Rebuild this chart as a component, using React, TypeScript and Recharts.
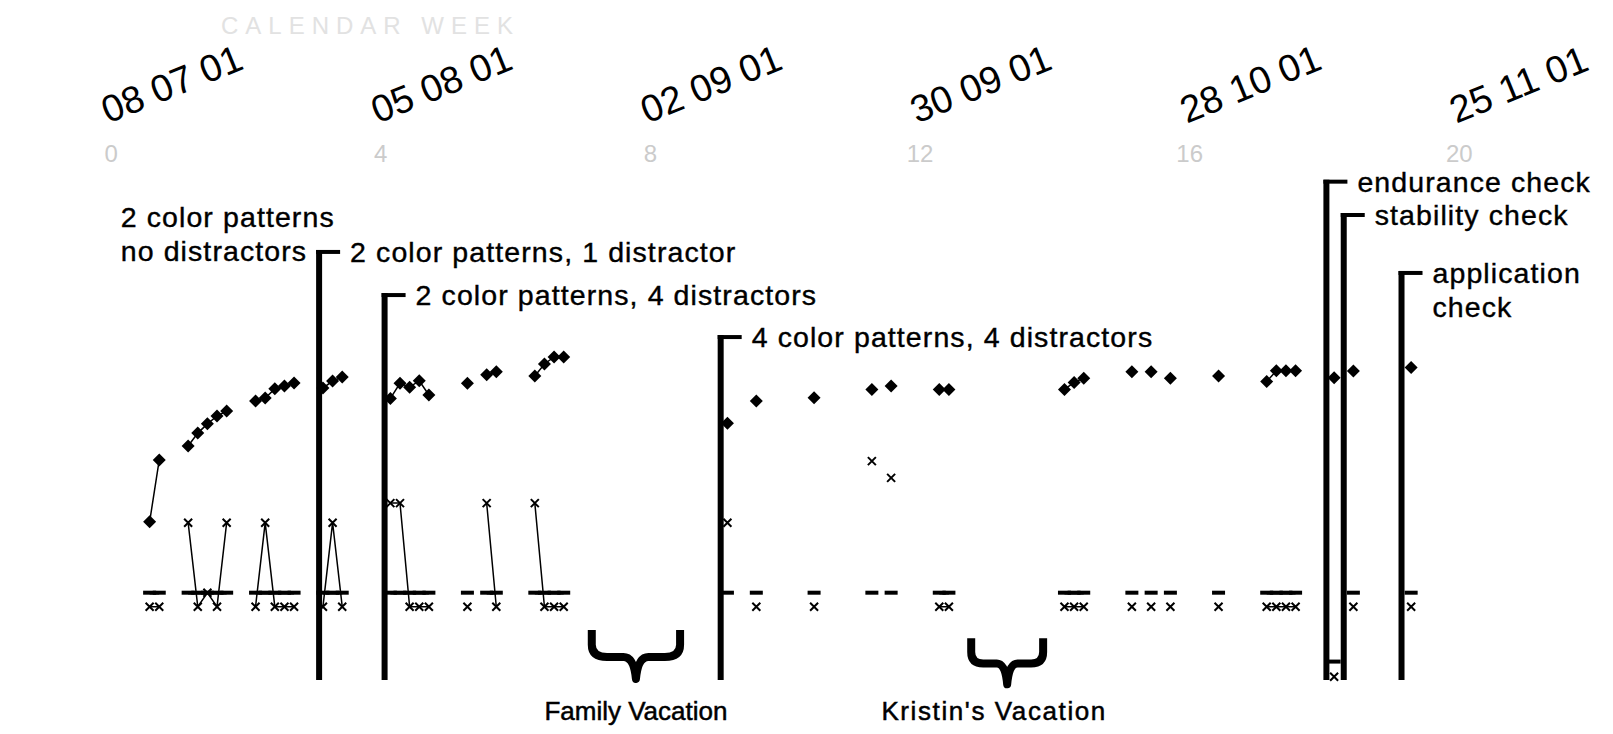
import React from 'react';
import { ComposedChart, Line, XAxis, YAxis, ReferenceLine, ReferenceArea } from 'recharts';

// training sessions, counted in days from 08 07 01
const sessionDays = [
  4, 5, 8, 9, 10, 11, 12, 15, 16, 17, 18, 19, 22, 23, 24, 29, 30, 31, 32, 33, 37, 39, 40, 44, 45, 46, 47,
  64, 67, 73, 79, 81, 86, 87, 99, 100, 101, 106, 108, 110, 115, 120, 121, 122, 123, 127, 129, 135,
];
const correctScores = [
  25.3, 47.4, 52.4, 57.0, 60.3, 63.1, 64.9, 68.5, 69.5, 72.8, 73.8, 74.9, 73.1, 75.6, 77.0, 69.4, 74.8, 73.4,
  75.7, 70.6, 74.8, 77.8, 78.9, 77.4, 81.7, 84.2, 84.2, 60.5, 68.5, 69.6, 72.6, 73.8, 72.6, 72.6, 72.6, 75.1,
  76.6, 78.9, 78.9, 76.6, 77.4, 75.4, 79.3, 79.3, 79.3, 76.8, 79.2, 80.4,
];
const errorScores = [
  0, 0, 30, 0, 5, 0, 30, 0, 30, 0, 0, 0, 0, 30, 0, 37, 37, 0, 0, 0, 0, 37, 0, 37, 0, 0, 0,
  30, 0, 0, 52, 46, 0, 0, 0, 0, 0, 0, 0, 0, 0, 0, 0, 0, 0, -25, 0, 0,
];
const baselineScores = [
  0, 0, 0, 0, 0, 0, 0, 0, 0, 0, 0, 0, 0, 0, 0, 0, 0, 0, 0, 0, 0, 0, 0, 0, 0, 0, 0,
  0, 0, 0, 0, 0, 0, 0, 0, 0, 0, 0, 0, 0, 0, 0, 0, 0, 0, -24.6, 0, 0,
];

const tickDays = [0, 28, 56, 84, 112, 140];
const tickDates = ['08 07 01', '05 08 01', '02 09 01', '30 09 01', '28 10 01', '25 11 01'];
const tickWeeks = ['0', '4', '8', '12', '16', '20'];

const phaseNames = [
  ['2 color patterns', 'no distractors'],
  ['2 color patterns, 1 distractor'],
  ['2 color patterns, 4 distractors'],
  ['4 color patterns, 4 distractors'],
  ['endurance check'],
  ['stability check'],
  ['application', 'check'],
];
const phaseDays = [1, 21.6, 28.4, 63.3, 126.2, 128, 134];
const phaseTops = [134.2, 121.7, 106.3, 91.3, 146.8, 134.9, 114.2];
const phaseBars = [false, true, true, true, true, true, true];
const phaseFloor = -31.2;

const vacationNames = ['Family Vacation', "Kristin's Vacation"];
const vacationStart = [49.5, 88.9];
const vacationEnd = [59.5, 97.2];
const vacationTop = [-13.3, -16.3];
const vacationBottom = [-30.8, -32.7];

const table = Array.from({ length: 141 }, (_, day) => {
  const i = sessionDays.indexOf(day);
  return {
    day,
    correct: i >= 0 ? correctScores[i] : null,
    errors: i >= 0 ? errorScores[i] : null,
    baseline: i >= 0 ? baselineScores[i] : null,
  };
});

const FONT = "'Liberation Sans', Arial, Helvetica, sans-serif";

const DateTick = (props: any) => {
  const { x, y, payload } = props;
  const i = tickDays.indexOf(payload.value);
  const tx = x - 3;
  const ty = y - 49;
  return (
    <g>
      <text x={tx} y={ty} transform={`rotate(-22 ${tx} ${ty})`} fontSize={38} fontFamily={FONT} fill="#000">
        {tickDates[i]}
      </text>
      <text x={x} y={y - 19} textAnchor="middle" dominantBaseline="central" fontSize={24} fontFamily={FONT} fill="#cbcbcb">
        {tickWeeks[i]}
      </text>
    </g>
  );
};

const Diamond = (p: any) => {
  const { cx, cy, index, payload } = p;
  if (cx == null || cy == null || payload?.correct == null) return <g key={`dm-${index}`} />;
  const r = 6.5;
  return <path key={`dm-${index}`} d={`M${cx},${cy - r}L${cx + r},${cy}L${cx},${cy + r}L${cx - r},${cy}Z`} fill="#000" />;
};

const Cross = (p: any) => {
  const { cx, cy, index, payload } = p;
  if (cx == null || cy == null || payload?.errors == null) return <g key={`cr-${index}`} />;
  const r = 4;
  return (
    <path
      key={`cr-${index}`}
      d={`M${cx - r},${cy - r}L${cx + r},${cy + r}M${cx + r},${cy - r}L${cx - r},${cy + r}`}
      stroke="#000"
      strokeWidth={2}
    />
  );
};

const Dash = (p: any) => {
  const { cx, cy, index, payload } = p;
  if (cx == null || cy == null || payload?.baseline == null) return <g key={`ds-${index}`} />;
  return <rect key={`ds-${index}`} x={cx - 6.5} y={cy - 2} width={13} height={4} fill="#000" />;
};

const PhaseMark = (p: any) => {
  const i = p.idx;
  const x = p.x1;
  const top = Math.min(p.y1, p.y2);
  const bottom = Math.max(p.y1, p.y2);
  const bar = phaseBars[i];
  const textX = bar ? x + 31 : x;
  return (
    <g>
      {bar && <line x1={x} y1={bottom} x2={x} y2={top - 2} stroke="#000" strokeWidth={6} />}
      {bar && <line x1={x - 3} y1={top} x2={x + 21} y2={top} stroke="#000" strokeWidth={4} />}
      {phaseNames[i].map((t, k) => (
        <text
          key={k}
          x={textX}
          y={top + k * 34.5}
          dominantBaseline="central"
          fontSize={28.5}
          letterSpacing={1.1}
          fontFamily={FONT}
          fill="#000"
          stroke="#000"
          strokeWidth={0.4}
        >
          {t}
        </text>
      ))}
    </g>
  );
};

const Brace = (p: any) => {
  const i = p.idx;
  const { x, y, width: w, height: h } = p;
  const cx = x + w / 2;
  const ym = y + h * 0.55;
  const labelDx = i === 1 ? -13 : 0;
  const d =
    `M ${x + 4} ${y} L ${x + 4} ${y + h * 0.3} Q ${x + 4} ${ym} ${x + w * 0.2} ${ym} ` +
    `L ${cx - w * 0.13} ${ym} Q ${cx - 2} ${ym} ${cx} ${y + h} ` +
    `Q ${cx + 2} ${ym} ${cx + w * 0.13} ${ym} L ${x + w * 0.8} ${ym} ` +
    `Q ${x + w - 4} ${ym} ${x + w - 4} ${y + h * 0.3} L ${x + w - 4} ${y}`;
  return (
    <g>
      <path d={d} fill="none" stroke="#000" strokeWidth={8} strokeLinejoin="round" />
      <text
        x={cx + labelDx}
        y={703}
        textAnchor="middle"
        dominantBaseline="central"
        fontSize={26}
        letterSpacing={i === 1 ? 1.6 : 0}
        fontFamily={FONT}
        fill="#000"
        stroke="#000"
        strokeWidth={0.5}
      >
        {vacationNames[i]}
      </text>
    </g>
  );
};

export default function App() {
  return (
    <>
      <style>{'body{overflow:hidden}'}</style>
      <ComposedChart
        width={1597}
        height={718}
        data={table}
        margin={{ top: 0, right: 1.25, bottom: 38.1, left: 6.8 }}
      >
        <text x={213} y={17} dominantBaseline="central" fontSize={24} letterSpacing={7} fontFamily={FONT} fill="#e2e2e2">
          CALENDAR WEEK
        </text>
        <XAxis
          dataKey="day"
          type="number"
          orientation="top"
          domain={[-10, 155]}
          ticks={tickDays}
          interval={0}
          height={164.7}
          axisLine={false}
          tickLine={false}
          tickSize={0}
          tickMargin={0}
          tick={DateTick}
          allowDataOverflow
        />
        <YAxis yAxisId="main" hide type="number" domain={[-34, 150]} allowDataOverflow />
        <YAxis yAxisId="err" hide type="number" domain={[-29, 155]} allowDataOverflow />
        <Line
          yAxisId="err"
          dataKey="errors"
          type="linear"
          stroke="#000"
          strokeWidth={1.5}
          dot={Cross}
          activeDot={false}
          isAnimationActive={false}
        />
        <Line
          yAxisId="main"
          dataKey="baseline"
          type="linear"
          stroke="#000"
          strokeWidth={3.5}
          dot={Dash}
          activeDot={false}
          isAnimationActive={false}
        />
        <Line
          yAxisId="main"
          dataKey="correct"
          type="linear"
          stroke="#000"
          strokeWidth={1.5}
          dot={Diamond}
          activeDot={false}
          isAnimationActive={false}
        />
        {phaseDays.map((d, i) => (
          <ReferenceLine
            key={`ph-${i}`}
            yAxisId="main"
            segment={[
              { x: d, y: phaseFloor },
              { x: d, y: phaseTops[i] },
            ]}
            shape={(p: any) => <PhaseMark {...p} idx={i} />}
          />
        ))}
        {vacationNames.map((n, i) => (
          <ReferenceArea
            key={`vac-${i}`}
            yAxisId="main"
            x1={vacationStart[i]}
            x2={vacationEnd[i]}
            y1={vacationBottom[i]}
            y2={vacationTop[i]}
            shape={(p: any) => <Brace {...p} idx={i} />}
          />
        ))}
      </ComposedChart>
    </>
  );
}
